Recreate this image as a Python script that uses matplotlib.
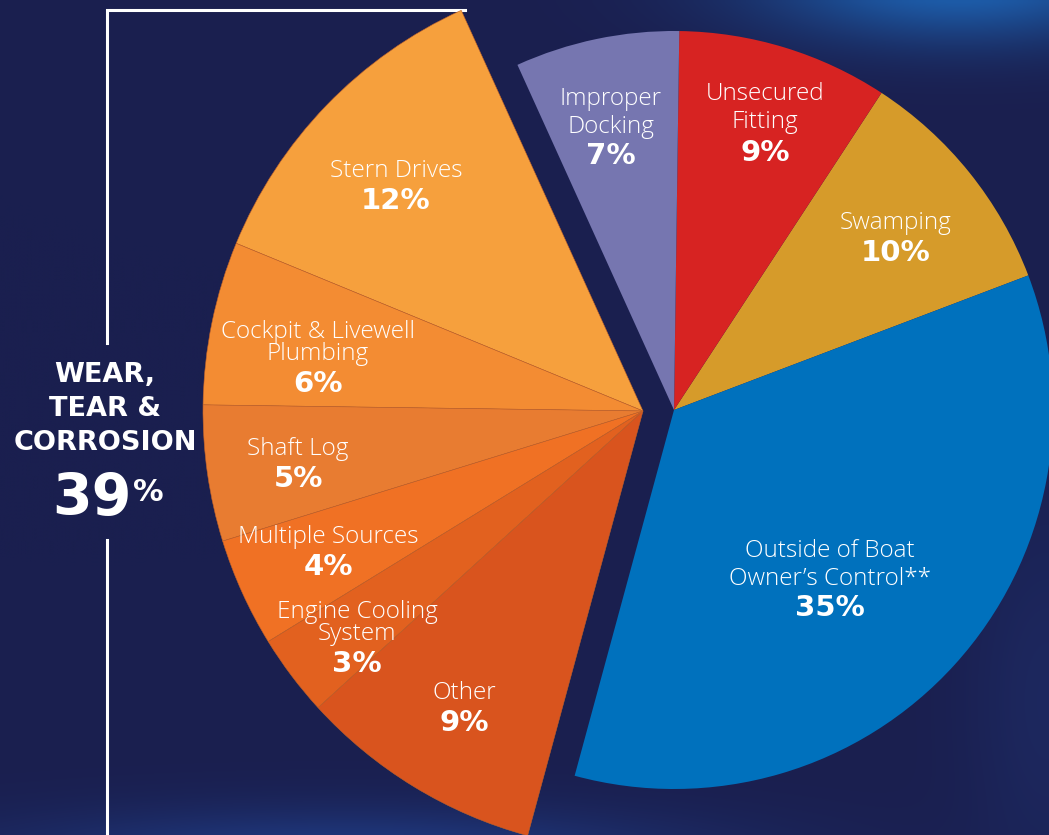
import numpy as np
import matplotlib.pyplot as plt

W, H = 1049, 835

# slices, counter-clockwise starting from the Swamping / Outside border
categories = ["Swamping", "Unsecured\nFitting", "Improper\nDocking", "Stern Drives",
              "Cockpit & Livewell\nPlumbing", "Shaft Log", "Multiple Sources",
              "Engine Cooling\nSystem", "Other", "Outside of Boat\nOwner\u2019s Control**"]
shares = [10, 9, 7, 12, 6, 5, 4, 3, 9, 35]
wear_group = [False, False, False, True, True, True, True, True, True, False]
wear_label = ["WEAR,", "TEAR &", "CORROSION"]
wear_total = 39

colors = ["#d69b2a", "#d72322", "#7676b0", "#f6a03d", "#f38c33",
          "#e87c31", "#f07124", "#e2611f", "#d9541e", "#0071bd"]
BG = "#1a1f4f"

# layout (image pixels): x, y of name block, y of percent, line spacing
label_pos = [(896, 223, 253, 1.0), (765, 108, 153, 1.25), (611, 113, 156, 1.25),
             (396, 171, 201, 1.0), (318, 343, 384, 0.92), (298, 449, 479, 1.0),
             (328, 537, 567, 1.0), (357, 623, 664, 0.92), (464, 693, 723, 1.0),
             (830, 565, 608, 1.25)]


def py(y):
    return H - y


fig = plt.figure(figsize=(W / 100, H / 100), dpi=100, facecolor=BG)
ax = fig.add_axes([0, 0, 1, 1])

# soft glows in the background
yy, xx = np.mgrid[0:H:4, 0:W:4]
base = np.array([26, 31, 79]) / 255.0
img = np.ones(yy.shape + (3,)) * base
glows = [((960, -20), (200, 60), np.array([30, 120, 210]) / 255.0, 0.75),
         ((350, 860), (350, 50), np.array([35, 80, 170]) / 255.0, 0.6),
         ((1049, 700), (80, 200), np.array([35, 60, 130]) / 255.0, 0.3)]
for (cx, cy), (sx, sy), col, a in glows:
    g = a * np.exp(-(((xx - cx) / sx) ** 2 + ((yy - cy) / sy) ** 2))
    img = img * (1 - g[..., None]) + col * g[..., None]
ax.imshow(img, extent=[0, W, 0, H], origin="upper", zorder=0, interpolation="bilinear")

# wear, tear & corrosion group: bigger, pushed to the left
wedges_a, _ = ax.pie(shares, colors=colors, startangle=20.8, radius=440,
                     center=(643, py(411)),
                     wedgeprops=dict(edgecolor="#c0622a", linewidth=0.4))
for w, g in zip(wedges_a, wear_group):
    w.set_visible(g)
    w.set_zorder(2)

wedges_b, _ = ax.pie(shares, colors=colors, startangle=20.8, radius=379,
                     center=(674, py(410)), wedgeprops=dict(linewidth=0))
for w, g in zip(wedges_b, wear_group):
    w.set_visible(not g)
    w.set_zorder(2)

ax.set_xlim(0, W)
ax.set_ylim(0, H)
ax.set_aspect("equal")
ax.axis("off")

for name, pct, (x, yn, yp, ls) in zip(categories, shares, label_pos):
    ax.text(x, py(yn), name, ha="center", va="center", color="white",
            fontsize=17.5, family="Open Sans", fontweight="light",
            linespacing=ls, zorder=3)
    ax.text(x, py(yp), f"{pct}%", ha="center", va="center", color="white",
            fontsize=21, family="DejaVu Sans", fontweight="bold", zorder=3)

# bracket on the left
ax.plot([107, 107, 465], [py(343), py(10), py(10)], color="white", lw=2.2,
        solid_joinstyle="miter", zorder=1)
ax.plot([107, 107], [py(540), py(H + 5)], color="white", lw=2.2, zorder=1)

for i, line in enumerate(wear_label):
    ax.text(105, py(375 + 34 * i), line, ha="center", va="center", color="white",
            fontsize=19.5, family="DejaVu Sans", fontweight="bold", zorder=3)
ax.text(132, py(499), str(wear_total), ha="right", va="center", color="white",
        fontsize=41, family="DejaVu Sans", fontweight="bold", zorder=3)
ax.text(133, py(478), "%", ha="left", va="top", color="white",
        fontsize=22, family="DejaVu Sans", fontweight="bold", zorder=3)

fig.savefig("out.png", dpi=100, facecolor=BG)
